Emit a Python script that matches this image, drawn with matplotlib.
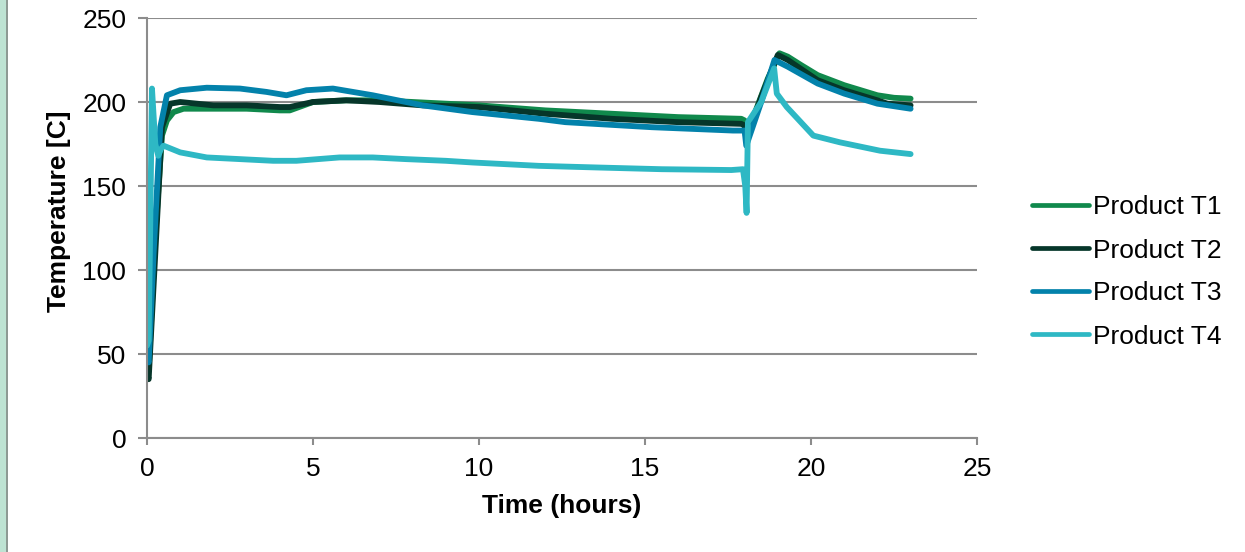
import matplotlib
matplotlib.use("Agg")
import matplotlib.pyplot as plt
from matplotlib.patches import Rectangle

plt.rcParams["font.family"] = ["Liberation Sans", "DejaVu Sans"]

# time (hours) / temperature (C)
t1 = [0.0, 0.05, 0.25, 0.45, 0.6, 0.8, 1.1, 2.0, 3.0, 4.0, 4.3, 5.0, 6.0, 7.0, 8.0,
      10.0, 12.0, 14.0, 16.0, 17.9, 18.0, 18.05, 18.3, 18.7, 19.05, 19.3, 19.7, 20.2,
      21.0, 22.0, 22.5, 23.0]
T1 = [50, 40, 120, 180, 189, 194, 196, 196, 196, 195, 195, 200, 201, 201, 200,
      198, 195, 193, 191, 190, 189, 181, 193, 214, 229, 227, 222, 216,
      210, 204, 202.5, 202]

t2 = [0.0, 0.05, 0.25, 0.45, 0.7, 1.0, 2.0, 3.0, 4.0, 4.3, 5.0, 6.0, 7.0, 8.3, 10.0,
      12.0, 14.0, 16.0, 17.9, 18.0, 18.05, 18.5, 19.0, 19.3, 20.2, 21.0, 22.0, 22.3,
      23.0]
T2 = [38, 35, 110, 185, 199, 200, 198, 198, 197, 197, 200, 201, 200, 198, 197,
      193, 190, 188, 187, 186, 178, 203, 228, 225, 213, 207, 201, 199,
      198]

t3 = [0.0, 0.05, 0.2, 0.4, 0.6, 1.0, 1.8, 2.8, 3.6, 4.2, 4.8, 5.6, 6.8, 8.3, 9.8,
      11.8, 12.6, 15.2, 17.65, 18.0, 18.05, 18.5, 18.9, 19.3, 20.2, 21.0, 22.0, 23.0]
T3 = [48, 45, 110, 185, 204, 207, 208.5, 208, 206, 204, 207, 208, 204, 198, 194,
      190, 188, 185, 183, 183, 174, 200, 225, 221, 211, 205, 199, 196]

t4 = [0.0, 0.05, 0.1, 0.15, 0.25, 0.34, 0.42, 0.5, 1.0, 1.8, 2.8, 3.8, 4.5, 5.8,
      6.8, 7.8, 9.0, 9.8, 11.8, 13.6, 15.5, 17.6, 17.95, 18.02, 18.06, 18.1, 18.5,
      18.89, 18.97, 19.27, 19.6, 20.07, 20.87, 22.08, 23.0]
T4 = [55, 58, 130, 208, 175, 168, 172, 174, 170, 167, 166, 165, 165, 167,
      167, 166, 165, 164, 162, 161, 160, 159.5, 160, 150, 134, 188, 200,
      220, 205, 197, 190, 180, 176, 171, 169]

series = [
    (t1, T1, "Product T1", "#10894C"),
    (t2, T2, "Product T2", "#06362A"),
    (t3, T3, "Product T3", "#0382AB"),
    (t4, T4, "Product T4", "#2EB8C4"),
]

fig = plt.figure(figsize=(12.45, 5.52), dpi=100)
ax = fig.add_axes([147 / 1245, 1 - 438 / 552, 830 / 1245, 420 / 552])

for t, T, name, col in series:
    ax.plot(t, T, color=col, linewidth=4.2, label=name,
            solid_joinstyle="round", solid_capstyle="round")

ax.set_xlim(0, 25)
ax.set_ylim(0, 250)
ax.set_xticks(range(0, 26, 5))
ax.set_yticks(range(0, 251, 50))
ax.yaxis.grid(True, color="#8C8C8C", linewidth=1.5)
ax.set_axisbelow(True)
for s in ["top", "right"]:
    ax.spines[s].set_visible(False)
for s in ["left", "bottom"]:
    ax.spines[s].set_color("#8C8C8C")
    ax.spines[s].set_linewidth(1.5)
ax.tick_params(axis="y", length=6.5, width=1.5, color="#8C8C8C", pad=8.5,
               labelsize=19)
ax.tick_params(axis="x", length=5, width=1.5, color="#8C8C8C", pad=9,
               labelsize=19)

ax.set_xlabel("Time (hours)", fontsize=19, fontweight="bold")
ax.set_ylabel("Temperature [C]", fontsize=19, fontweight="bold")
ax.xaxis.set_label_coords(0.5, -0.133)
ax.yaxis.set_label_coords(-0.091, 0.54)

leg = fig.legend(loc="center left", bbox_to_anchor=(1032 / 1245, 1 - 272 / 552),
                 frameon=False, fontsize=19, handlelength=2.15,
                 handletextpad=0.15, labelspacing=0.72, borderpad=0,
                 borderaxespad=0)
for ln in leg.get_lines():
    ln.set_linewidth(3.4)

# light green strip at the left edge
fig.patches.append(Rectangle((0, 0), 6 / 1245, 1, transform=fig.transFigure,
                             facecolor="#BEE3D3", edgecolor="none"))
fig.patches.append(Rectangle((6 / 1245, 0), 2 / 1245, 1, transform=fig.transFigure,
                             facecolor="#8E9A94", edgecolor="none"))

fig.savefig("out.png", dpi=100)
